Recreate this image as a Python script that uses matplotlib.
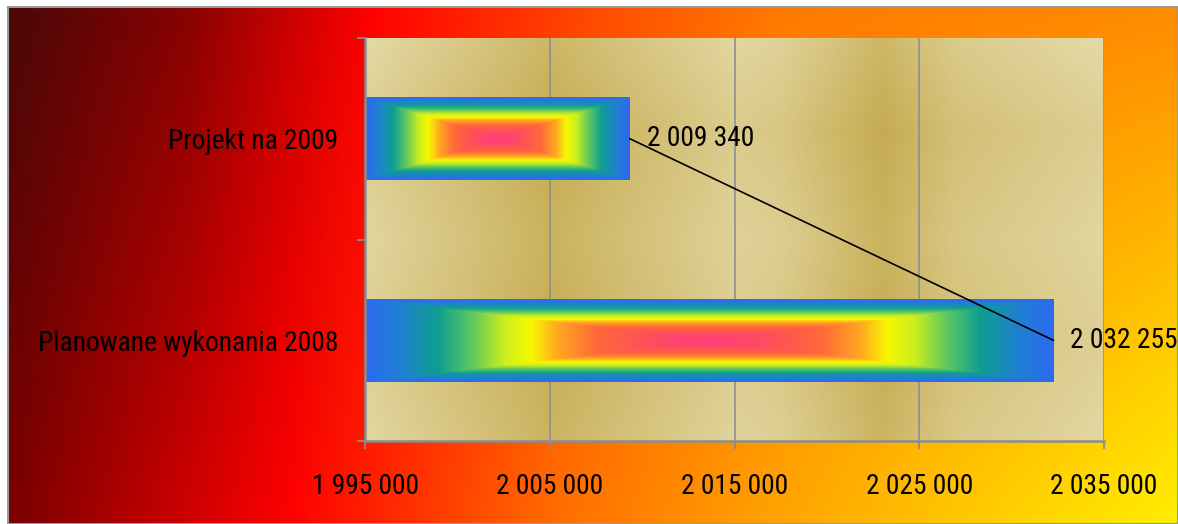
import numpy as np
import matplotlib
matplotlib.use("Agg")
import matplotlib.pyplot as plt
from matplotlib.colors import LinearSegmentedColormap, to_rgb
from matplotlib.ticker import FuncFormatter, FixedLocator
from matplotlib.patches import Rectangle

# ---------------- data ----------------
categories = ["Planowane wykonania 2008", "Projekt na 2009"]
values = [2032255, 2009340]
x_ticks = [1995000, 2005000, 2015000, 2025000, 2035000]
x_min, x_max = 1995000, 2035000

plt.rcParams['font.family'] = ['Roboto Condensed', 'DejaVu Sans']

W, H = 1178, 524
fig = plt.figure(figsize=(W / 100, H / 100), dpi=100)
fig.patch.set_facecolor("white")

# font size chosen so the longest category label spans ~301 px as in the reference
probe = fig.text(0, 0, categories[0], fontsize=20)
fig.canvas.draw()
pw = probe.get_window_extent().width
probe.remove()
FS = 20 * 301.0 / pw

# ---------------- outer chart-area gradient ----------------
def interp_stops(stops, t):
    xs = np.array([s[0] for s in stops])
    cs = np.array([to_rgb(s[1]) for s in stops])
    return np.stack([np.interp(t, xs, cs[:, i]) for i in range(3)], axis=-1)

top_stops = [(0.0, "#4a0808"), (0.15, "#860202"), (0.31, "#ff0000"),
             (0.50, "#ff4a00"), (0.66, "#ff7a00"), (1.0, "#ff8c00")]
bot_stops = [(0.0, "#7a0000"), (0.24, "#ff0000"), (0.47, "#ff6e00"),
             (0.63, "#ff9c00"), (0.80, "#ffc400"), (1.0, "#ffee00")]
nx, ny = 400, 60
tx = np.linspace(0, 1, nx)
top_row = interp_stops(top_stops, tx)
bot_row = interp_stops(bot_stops, tx)
fy = np.linspace(0, 1, ny)[:, None, None]
bg = top_row[None, :, :] * (1 - fy) + bot_row[None, :, :] * fy

bl, bb = 8 / W, 0.0
bw, bh = 1 - bl, 1 - 7 / H
bgax = fig.add_axes([bl, bb, bw, bh], zorder=0)
bgax.imshow(bg, aspect="auto", extent=[0, 1, 0, 1], origin="upper",
            interpolation="bilinear")
bgax.set_xlim(0, 1)
bgax.set_ylim(0, 1)
bgax.axis("off")
fig.add_artist(Rectangle((bl, bb), bw, bh, transform=fig.transFigure,
                         fill=False, edgecolor="#9a9a9a", linewidth=1.5, zorder=1))

# ---------------- plot axes ----------------
L, R, T, B = 365, 1104, 38, 441
ax = fig.add_axes([L / W, 1 - B / H, (R - L) / W, (B - T) / H], zorder=2)

# gold plot-area fill
gx = np.linspace(0, 1, 500)
hx_pts = [0.0, 0.25, 0.38, 0.50, 0.56, 0.70, 0.80, 1.0]
hx_val = [0.05, 1.0, 0.55, 0.15, 0.25, 1.0, 0.45, 0.05]
hprof = np.interp(gx, hx_pts, hx_val)
gy = np.linspace(0, 1, 200)
vy_pts = [0.0, 0.23, 0.5, 0.75, 1.0]
vy_val = [0.0, 0.8, 0.3, 0.7, 0.2]
vprof = np.interp(gy, vy_pts, vy_val)
dark = 0.72 * hprof[None, :] + 0.28 * vprof[:, None]
light_c = np.array(to_rgb("#e6dcaa"))
dark_c = np.array(to_rgb("#c4a84c"))
gold = light_c[None, None, :] * (1 - dark[..., None]) + dark_c[None, None, :] * dark[..., None]
ax.imshow(gold, aspect="auto", extent=[x_min, x_max, -0.5, 1.5], origin="upper",
          interpolation="bilinear", zorder=0)

# bars
ypos = np.arange(len(categories))
bars = ax.barh(ypos, [v - x_min for v in values], left=x_min, height=0.41,
               facecolor="none", edgecolor="none", zorder=3)

bar_stops = [(0.0, "#ff3c82"), (0.18, "#ff4f5a"), (0.33, "#ff6a38"),
             (0.44, "#ffa820"), (0.52, "#f8f800"), (0.60, "#c8ee20"),
             (0.69, "#60c860"), (0.79, "#0e9e90"), (0.90, "#1f80d2"),
             (1.0, "#2c6af0")]
bar_cmap = LinearSegmentedColormap.from_list("box", [(p, c) for p, c in bar_stops])
for p in bars.patches:
    x0, y0, w, h = p.get_x(), p.get_y(), p.get_width(), p.get_height()
    u = np.abs(np.linspace(-1, 1, 600))[None, :]
    v = np.abs(np.linspace(-1, 1, 120))[:, None]
    d = np.maximum(u, v)
    im = ax.imshow(d, cmap=bar_cmap, vmin=0, vmax=1, aspect="auto",
                   extent=[x0, x0 + w, y0, y0 + h], origin="lower",
                   interpolation="bilinear", zorder=3)
    im.set_clip_path(p)

# connecting line
ax.plot(values, ypos, color="black", linewidth=1.2, zorder=5)

# data labels
for v_, y_ in zip(values, ypos):
    ax.annotate(f"{v_:,.0f}".replace(",", " "), xy=(v_, y_), xytext=(12, 0),
                textcoords="offset points", va="center", ha="left",
                fontsize=FS, color="black", zorder=6)

ax.set_xlim(x_min, x_max)
ax.set_ylim(-0.5, 1.5)

ax.xaxis.set_major_locator(FixedLocator(x_ticks))
ax.xaxis.set_major_formatter(FuncFormatter(lambda v, _: f"{v:,.0f}".replace(",", " ")))
ax.grid(axis="x", color="#8f8f8f", linewidth=1.2, zorder=1)
ax.set_axisbelow(True)

ax.yaxis.set_major_locator(FixedLocator([-0.5, 0.5, 1.5]))
ax.yaxis.set_major_formatter(FuncFormatter(lambda v, _: ""))
ax.yaxis.set_minor_locator(FixedLocator(ypos))
ax.set_yticklabels(categories, minor=True)
ax.tick_params(axis="y", which="minor", length=0, pad=19, labelsize=FS)
ax.tick_params(axis="y", which="major", length=6, width=1.3, color="#8c8c8c")
ax.tick_params(axis="x", which="major", length=6, width=1.3, color="#8c8c8c",
               pad=17, labelsize=FS)

for s in ["top", "right"]:
    ax.spines[s].set_visible(False)
for s in ["left", "bottom"]:
    ax.spines[s].set_color("#8c8c8c")
    ax.spines[s].set_linewidth(1.8)
    ax.spines[s].set_zorder(4)

fig.savefig("out.png", dpi=100)
